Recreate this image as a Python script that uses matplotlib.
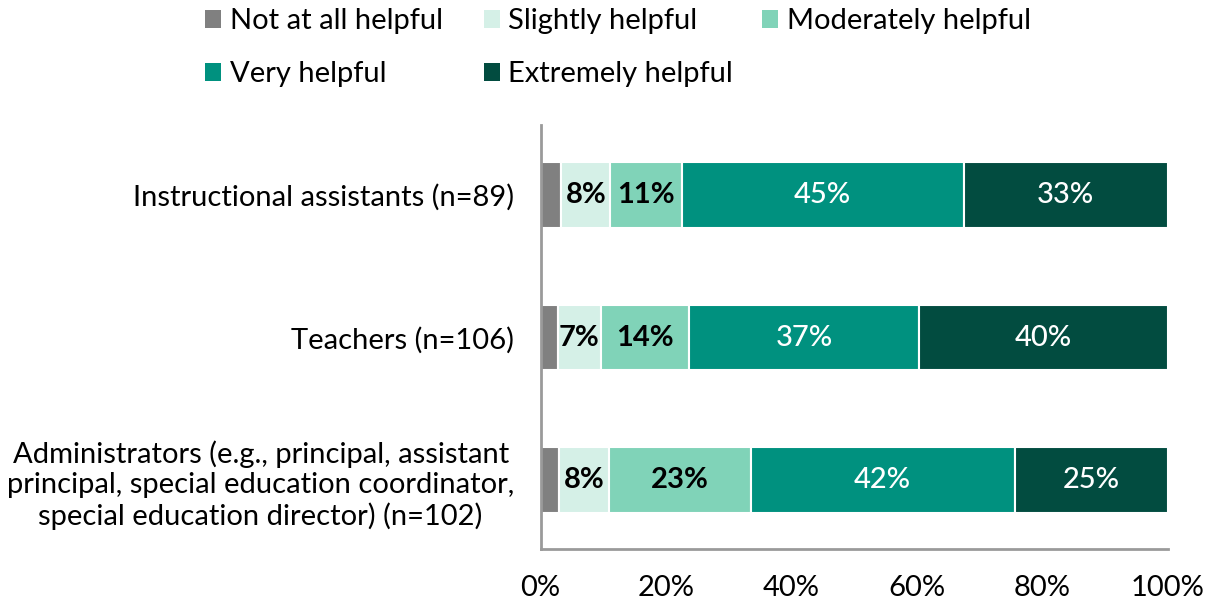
import matplotlib.pyplot as plt
from matplotlib.patches import Patch

plt.rcParams['font.family'] = ['Lato', 'DejaVu Sans']

groups = ['Instructional assistants (n=89)',
          'Teachers (n=106)',
          'Administrators (e.g., principal, assistant\nprincipal, special education coordinator,\nspecial education director) (n=102)']
levels = ['Not at all helpful', 'Slightly helpful', 'Moderately helpful',
          'Very helpful', 'Extremely helpful']
not_at_all = [3.3, 2.7, 2.9]
slightly = [7.8, 6.9, 8.0]
moderately = [11.4, 14.0, 22.6]
very = [45.0, 36.8, 42.1]
extremely = [32.5, 39.6, 24.4]
shown = [[None, None, None], [8, 7, 8], [11, 14, 23], [45, 37, 42], [33, 40, 25]]

colors = ['#808080', '#d5f0e7', '#80d3b8', '#00917f', '#024c40']
text_colors = ['black', 'black', 'black', 'white', 'white']

fig = plt.figure(figsize=(12.15, 6.05), dpi=100)
ax = fig.add_axes([0.445, 0.093, 0.516, 0.7])

series = [not_at_all, slightly, moderately, very, extremely]
left = [0, 0, 0]
ypos = range(len(groups))
for i, vals in enumerate(series):
    bars = ax.barh(ypos, vals, left=left, height=0.46, color=colors[i],
                   edgecolor='white', linewidth=1.5)
    for j, b in enumerate(bars):
        lab = shown[i][j]
        if lab is not None:
            ax.text(b.get_x() + b.get_width() / 2, b.get_y() + b.get_height() / 2,
                    f'{lab}%', ha='center', va='center', fontsize=21,
                    color=text_colors[i],
                    fontweight='bold' if text_colors[i] == 'black' else 'medium')
    left = [l + v for l, v in zip(left, vals)]

ax.set_xlim(0, 100)
ax.set_ylim(2.48, -0.49)
ax.set_yticks(list(ypos))
ax.set_yticklabels(groups, fontsize=21, multialignment='center')
ax.set_xticks([0, 20, 40, 60, 80, 100])
ax.set_xticklabels(['0%', '20%', '40%', '60%', '80%', '100%'], fontsize=21)
ax.tick_params(axis='y', length=0, pad=19)
ax.tick_params(axis='x', length=0, pad=19)
for s in ['top', 'right']:
    ax.spines[s].set_visible(False)
for s in ['left', 'bottom']:
    ax.spines[s].set_color('#9a9a9a')
    ax.spines[s].set_linewidth(2)

# legend laid out as fixed-width columns
columns = [[0, 3], [1, 4], [2]]
col_x = [0.1687, 0.398, 0.627]
for keys, x in zip(columns, col_x):
    handles = [Patch(facecolor=colors[k], label=levels[k]) for k in keys]
    fig.legend(handles=handles, loc='upper left', bbox_to_anchor=(x, 0.986),
               frameon=False, fontsize=21, handlelength=0.55, handleheight=0.55,
               handletextpad=0.3, labelspacing=0.92, borderpad=0, borderaxespad=0)

fig.savefig('out.png', dpi=100)
